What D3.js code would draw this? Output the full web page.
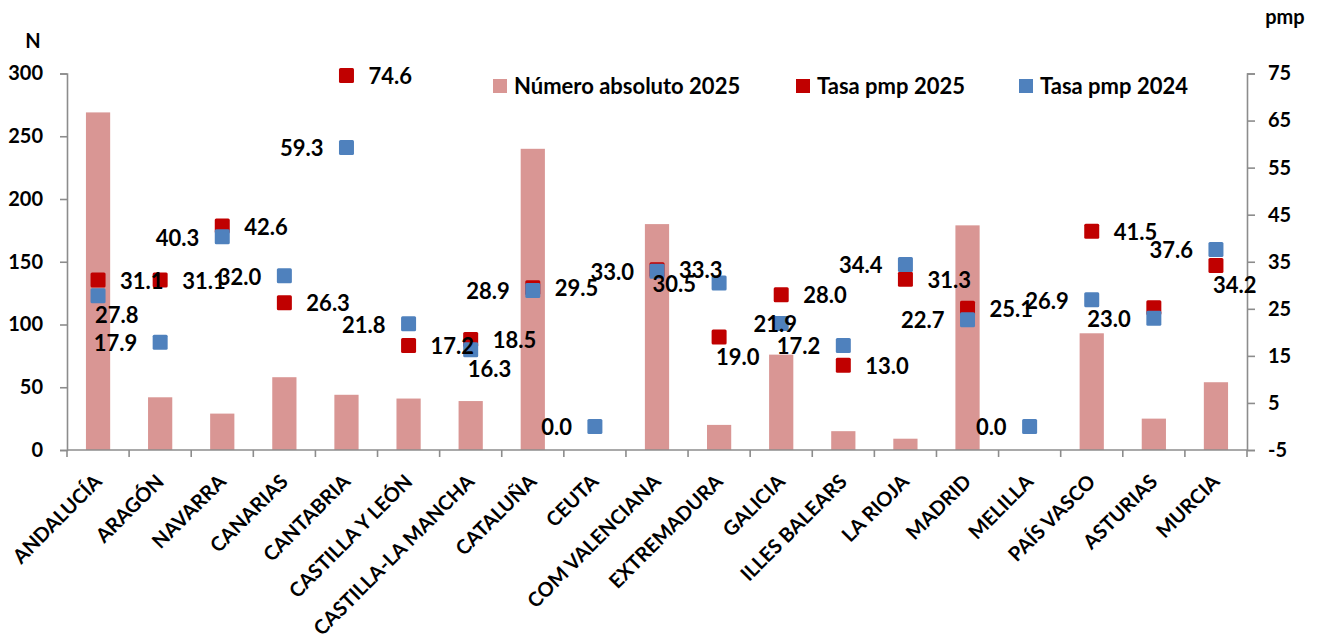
<!DOCTYPE html>
<html>
<head>
<meta charset="utf-8">
<script src="https://cdn.jsdelivr.net/npm/d3@7"></script>
<style>
  body { margin: 0; background: #fff; }
  svg { display: block; }
  text { font-family: Lato, "Open Sans", sans-serif; font-weight: 700; fill: #000; }
</style>
</head>
<body>
<svg id="chart" width="1322" height="640"></svg>
<script>
// ---- data ----
const categories = ["ANDALUCÍA","ARAGÓN","NAVARRA","CANARIAS","CANTABRIA","CASTILLA Y LEÓN","CASTILLA-LA MANCHA","CATALUÑA","CEUTA","COM VALENCIANA","EXTREMADURA","GALICIA","ILLES BALEARS","LA RIOJA","MADRID","MELILLA","PAÍS VASCO","ASTURIAS","MURCIA"];
const numeroAbsoluto2025 = [269, 42, 29, 58, 44, 41, 39, 240, 0, 180, 20, 76, 15, 9, 179, 0, 93, 25, 54];
const tasaPmp2025 = [31.1, 31.1, 42.6, 26.3, 74.6, 17.2, 18.5, 29.5, null, 33.3, 19.0, 28.0, 13.0, 31.3, 25.1, null, 41.5, 25.2, 34.2];
const tasaPmp2024 = [27.8, 17.9, 40.3, 32.0, 59.3, 21.8, 16.3, 28.9, 0.0, 33.0, 30.5, 21.9, 17.2, 34.4, 22.7, 0.0, 26.9, 23.0, 37.6];
const leftTicks = [0, 50, 100, 150, 200, 250, 300];
const rightTicks = [-5, 5, 15, 25, 35, 45, 55, 65, 75];
const seriesNames = ["Número absoluto 2025", "Tasa pmp 2025", "Tasa pmp 2024"];
// label placement per point: r = right, l = left, b = below, o = over, "" = no label
const labelPos2025 = ["r","r","r","r","r","r","r","r","","r","b","r","r","r","r","","r","","b"];
const labelPos2024 = ["b","l","l","l","l","l","b","l","l","l","l","o","l","l","l","l","l","l","l"];

// ---- style ----
const colBar = "#D99694", colRed = "#C00000", colBlue = "#4F81BD", colAxis = "#8C8C8C";
const FS = 20, FS_LABEL = 22;

const svg = d3.select("#chart");
const L = 67, R = 1247, T = 73.5, B = 450;

const x = d3.scaleBand().domain(categories).range([L, R]);
const xBar = d3.scaleBand().domain(categories).range([L, R]).paddingInner(0.61).paddingOuter(0.305);
const yL = d3.scaleLinear().domain([0, 300]).range([B, T]);
const yR = d3.scaleLinear().domain([-5, 75]).range([B, T]);
const cx = c => x(c) + x.bandwidth() / 2;

// bars
svg.append("g").selectAll("rect").data(categories).join("rect")
  .attr("x", c => xBar(c))
  .attr("width", xBar.bandwidth())
  .attr("y", (c, i) => yL(numeroAbsoluto2025[i]))
  .attr("height", (c, i) => B - yL(numeroAbsoluto2025[i]))
  .attr("fill", colBar);

// axes
const gL = svg.append("g").attr("transform", `translate(${L},0)`)
  .call(d3.axisLeft(yL).tickValues(leftTicks).tickFormat(d => String(d)).tickSize(7).tickPadding(17).tickSizeOuter(7));
const gR = svg.append("g").attr("transform", `translate(${R},0)`)
  .call(d3.axisRight(yR).tickValues(rightTicks).tickFormat(d => String(d)).tickSize(8).tickPadding(13).tickSizeOuter(8));
[gL, gR].forEach(g => {
  g.selectAll("path, line").attr("stroke", colAxis).attr("stroke-width", 1.6);
  g.selectAll("text").style("font-size", FS + "px").attr("fill", "#000");
});

// bottom axis (ticks on band boundaries)
const gB = svg.append("g");
gB.append("line").attr("x1", L).attr("x2", R).attr("y1", B).attr("y2", B)
  .attr("stroke", colAxis).attr("stroke-width", 1.6);
const bounds = categories.map(c => x(c)).concat([R]);
gB.selectAll("line.tk").data(bounds).join("line").attr("class", "tk")
  .attr("x1", d => d).attr("x2", d => d).attr("y1", B).attr("y2", B + 7)
  .attr("stroke", colAxis).attr("stroke-width", 1.6);
gB.selectAll("text").data(categories).join("text")
  .attr("transform", c => `translate(${cx(c) + 5},${B + 33}) rotate(-45)`)
  .attr("text-anchor", "end")
  .style("font-size", FS + "px")
  .text(c => c);

// axis titles
svg.append("text").attr("x", 33).attr("y", 48).attr("text-anchor", "middle").style("font-size", FS + "px").text("N");
svg.append("text").attr("x", 1285).attr("y", 24).attr("text-anchor", "middle").style("font-size", FS + "px").text("pmp");

// markers
const MS = 15;
function markers(vals, color) {
  const pts = categories.map((c, i) => ({c, v: vals[i]})).filter(d => d.v !== null);
  svg.append("g").selectAll("rect").data(pts).join("rect")
    .attr("x", d => cx(d.c) - MS / 2)
    .attr("y", d => yR(d.v) - MS / 2)
    .attr("width", MS).attr("height", MS).attr("rx", 1.5)
    .attr("fill", color);
}
markers(tasaPmp2025, colRed);
markers(tasaPmp2024, colBlue);

// data labels
const placeOffsets = {
  r: {dx: 22, dy: 1, anchor: "start"},
  l: {dx: -23, dy: 1, anchor: "end"},
  b: {dx: -3, dy: 20, anchor: "start"},
  o: {dx: -6, dy: 1, anchor: "middle"}
};
function labels(vals, pos) {
  const pts = categories.map((c, i) => ({c, v: vals[i], p: pos[i]})).filter(d => d.v !== null && d.p);
  svg.append("g").selectAll("text").data(pts).join("text")
    .attr("x", d => cx(d.c) + placeOffsets[d.p].dx)
    .attr("y", d => yR(d.v) + placeOffsets[d.p].dy)
    .attr("dy", "0.35em")
    .attr("text-anchor", d => placeOffsets[d.p].anchor)
    .style("font-size", FS_LABEL + "px")
    .text(d => d3.format(".1f")(d.v));
}
labels(tasaPmp2025, labelPos2025);
labels(tasaPmp2024, labelPos2024);

// legend
const legendX = [493, 796, 1019];
const legendCol = [colBar, colRed, colBlue];
const lg = svg.append("g");
seriesNames.forEach((s, i) => {
  lg.append("rect").attr("x", legendX[i]).attr("y", 79).attr("width", 14).attr("height", 14).attr("fill", legendCol[i]);
  lg.append("text").attr("x", legendX[i] + 21).attr("y", 86).attr("dy", "0.35em")
    .style("font-size", FS_LABEL + "px").text(s);
});
</script>
</body>
</html>
